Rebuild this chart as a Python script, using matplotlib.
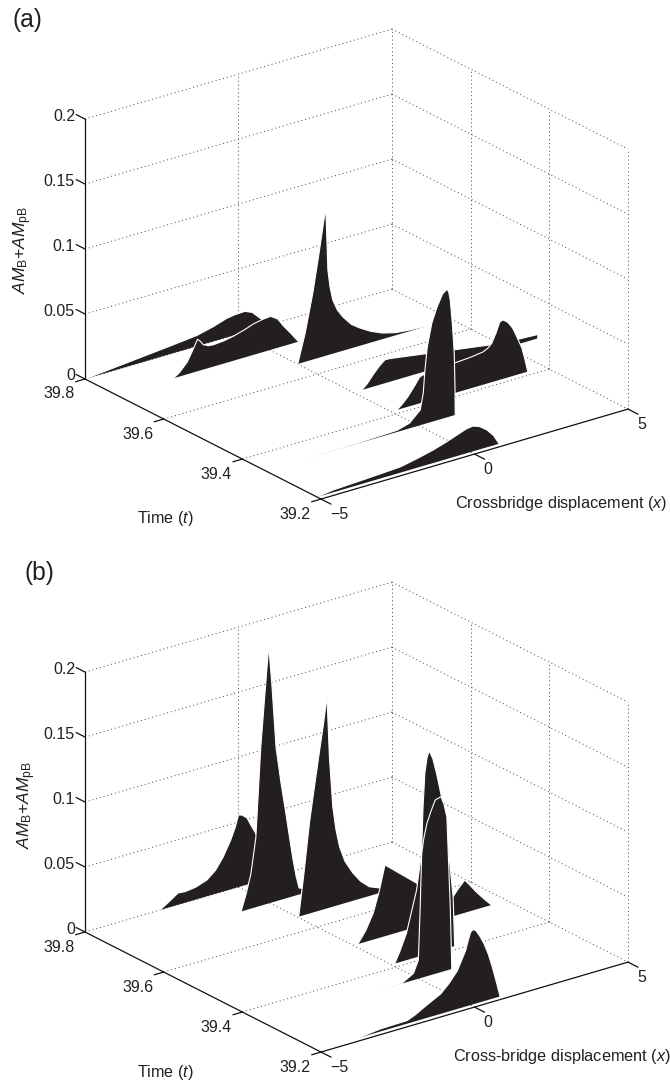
import matplotlib
matplotlib.use('Agg')
import numpy as np
import matplotlib.pyplot as plt
from mpl_toolkits.mplot3d import proj3d
from mpl_toolkits.mplot3d.art3d import Poly3DCollection

plt.rcParams['font.family'] = 'Liberation Sans'
plt.rcParams['mathtext.fontset'] = 'custom'
plt.rcParams['mathtext.rm'] = 'Liberation Sans'
plt.rcParams['mathtext.it'] = 'Liberation Sans:italic'

INK = '#231f20'
W, H = 670, 1081

x_ticks = [-5, 0, 5]
x_tick_labels = ['\u22125', '0', '5']
t_ticks = [39.8, 39.6, 39.4, 39.2]
t_tick_labels = ['39.8', '39.6', '39.4', '39.2']
z_ticks = [0, 0.05, 0.1, 0.15, 0.2]
z_tick_labels = ['0', '0.05', '0.1', '0.15', '0.2']

# panel (a), one time slice per list
a1_t = 39.8
a1_x = [-5, -3.21, -2.3, -1.35, -0.8, -0.37, -0.1, 0.21, 0.45, 0.7, 1.06]
a1_z = [0, 0.004, 0.006, 0.0083, 0.0115, 0.0148, 0.0157, 0.016, 0.0135, 0.0074, 0]
a2_t = 39.72
a2_x = [-3.14, -2.95, -2.69, -2.5, -2.36, -2.27, -2.17, -2.0, -1.84, -1.5, -1.19, -0.85, -0.54, -0.25, 0.02, 0.25, 0.44, 0.7, 0.93]
a2_z = [0, 0.003, 0.0095, 0.018, 0.0246, 0.0225, 0.0191, 0.0172, 0.0168, 0.0175, 0.0189, 0.0212, 0.0238, 0.0252, 0.0258, 0.0222, 0.0155, 0.0075, 0]
a3_t = 39.65
a3_x = [0.01, 0.25, 0.5, 0.7, 0.92, 0.95, 0.99, 1.06, 1.15, 1.3, 1.48, 1.75, 2.03, 2.4, 2.78, 3.2, 3.66, 4.31]
a3_z = [0, 0.022, 0.0512, 0.08, 0.114, 0.095, 0.0656, 0.052, 0.0413, 0.0325, 0.026, 0.0185, 0.0137, 0.0085, 0.0046, 0.002, 0.0009, 0]
a4_t = 39.508
a4_x = [0.28, 0.45, 0.64, 0.85, 1.03, 1.2, 2.49, 4.45, 5.2, 6.01, 6.01]
a4_z = [0, 0.0035, 0.0091, 0.0145, 0.018, 0.0178, 0.013, 0.0058, 0.004, 0.003, 0]
a5_t = 39.412
a5_x = [0.19, 0.35, 0.54, 0.75, 0.93, 1.1, 2.07, 2.6, 2.99, 3.15, 3.28, 3.42, 3.54, 3.64, 3.8, 3.96, 4.1, 4.26, 4.36, 4.45]
a5_z = [0, 0.003, 0.0075, 0.014, 0.0202, 0.0215, 0.0231, 0.024, 0.0252, 0.027, 0.03, 0.037, 0.0445, 0.0454, 0.0425, 0.0369, 0.029, 0.0195, 0.01, 0]
a6_t = 39.342
a6_x = [-3.86, -2, -0.7, -0.3, 0.05, 0.15, 0.2, 0.28, 0.43, 0.6, 0.78, 0.93, 0.98, 1.03, 1.1, 1.16, 1.185, 1.19]
a6_z = [0, 0.0004, 0.0013, 0.004, 0.0117, 0.0241, 0.04, 0.0585, 0.076, 0.0871, 0.096, 0.0986, 0.096, 0.0895, 0.07, 0.0478, 0.02, 0]
a7_t = 39.21
a7_x = [-5, -4.48, -3.4, -2.3, -1.75, -1.22, -0.8, -0.44, -0.15, 0.08, 0.3, 0.54, 0.75, 0.93]
a7_z = [0, 0.0018, 0.003, 0.0044, 0.007, 0.01, 0.0131, 0.0162, 0.0187, 0.0195, 0.0175, 0.0132, 0.0075, 0]

# panel (b)
b1_t = 39.8
b1_x = [-2.56, -2.25, -1.97, -1.74, -1.4, -1.03, -0.75, -0.5, -0.25, -0.1, 0, 0.12, 0.28, 0.4, 0.54, 1.0, 1.55]
b1_z = [0, 0.0045, 0.009, 0.0085, 0.0095, 0.0125, 0.018, 0.0265, 0.038, 0.047, 0.0555, 0.0545, 0.0512, 0.045, 0.0385, 0.012, 0]
b2_t = 39.72
b2_x = [-0.94, -0.78, -0.62, -0.46, -0.3, -0.13, -0.04, 0.06, 0.2, 0.36, 0.52, 0.62, 0.74, 0.85, 0.95, 1.11, 1.2]
b2_z = [0, 0.012, 0.0269, 0.0535, 0.1217, 0.172, 0.198, 0.1685, 0.118, 0.09, 0.0652, 0.049, 0.03, 0.015, 0.005, 0.0035, 0]
b3_t = 39.65
b3_x = [0.04, 0.2, 0.39, 0.55, 0.71, 0.85, 0.96, 1.0, 1.04, 1.15, 1.25, 1.37, 1.55, 1.8, 2.05, 2.34, 2.61, 3.2]
b3_z = [0, 0.03, 0.0698, 0.096, 0.1215, 0.143, 0.163, 0.14, 0.116, 0.0768, 0.059, 0.0446, 0.032, 0.0216, 0.0135, 0.0071, 0.0045, 0]
b4_t = 39.508
b4_x = [0.15, 0.4, 0.65, 0.85, 1.03, 2.06, 2.7, 3.25, 3.4, 3.63, 3.8, 4.0, 4.25, 4.5]
b4_z = [0, 0.0085, 0.0205, 0.0365, 0.0548, 0.0337, 0.02, 0.015, 0.0195, 0.0252, 0.02, 0.0136, 0.0065, 0]
b5_t = 39.412
b5_x = [0.12, 0.3, 0.5, 0.83, 0.99, 1.04, 1.1, 1.17, 1.24, 1.36, 1.48, 1.64, 1.85, 2.02, 2.07]
b5_z = [0, 0.009, 0.0207, 0.0517, 0.079, 0.114, 0.14, 0.151, 0.156, 0.149, 0.137, 0.118, 0.08, 0.038, 0]
b6_t = 39.342
b6_x = [-1.69, -0.55, -0.17, -0.01, 0.05, 0.1, 0.17, 0.27, 0.4, 0.54, 0.73, 0.83, 0.92, 1.03, 1.08]
b6_z = [0, 0.0002, 0.0052, 0.0143, 0.0549, 0.0956, 0.107, 0.1176, 0.126, 0.1337, 0.135, 0.128, 0.118, 0.048, 0]
b7_t = 39.21
b7_x = [-3.68, -2.93, -2.5, -2.06, -1.8, -1.51, -1.25, -0.97, -0.7, -0.43, -0.3, -0.16, -0.08, 0, 0.08, 0.17, 0.3, 0.44, 0.58, 0.71, 0.85, 0.96]
b7_z = [0, 0.002, 0.0022, 0.0024, 0.005, 0.0088, 0.012, 0.0154, 0.0215, 0.0295, 0.036, 0.0431, 0.05, 0.056, 0.0575, 0.0562, 0.051, 0.0441, 0.035, 0.0242, 0.011, 0]

slices_a = [(a1_t, a1_x, a1_z), (a2_t, a2_x, a2_z), (a3_t, a3_x, a3_z), (a4_t, a4_x, a4_z),
            (a5_t, a5_x, a5_z), (a6_t, a6_x, a6_z), (a7_t, a7_x, a7_z)]
slices_b = [(b1_t, b1_x, b1_z), (b2_t, b2_x, b2_z), (b3_t, b3_x, b3_z), (b4_t, b4_x, b4_z),
            (b5_t, b5_x, b5_z), (b6_t, b6_x, b6_z), (b7_t, b7_x, b7_z)]


def to_px(ax, x, t, z):
    X, Y, _ = proj3d.proj_transform(x, t, z, ax.get_proj())
    return ax.transData.transform((X, Y))


def make_axes(fig, origin_px, right_px):
    # square axes, then scale and shift until the box corners land on the wanted pixels
    ax = fig.add_axes([0.1, 0.1, 600 / W, 600 / H], projection='3d', proj_type='ortho',
                      computed_zorder=False)
    ax.view_init(elev=22.71, azim=-127.2)
    ax.set_xlim(-5, 5, view_margin=0)
    ax.set_ylim(39.2, 39.8, view_margin=0)
    ax.set_zlim(0, 0.2, view_margin=0)
    ax.set_box_aspect((385.4, 390.4, 281.8))
    ax.set_axis_off()
    ax.patch.set_visible(False)

    p0 = to_px(ax, -5, 39.8, 0)
    p1 = to_px(ax, 5, 39.2, 0)
    want = np.hypot(right_px[0] - origin_px[0], right_px[1] - origin_px[1])
    side = 600 * want / np.hypot(*(p1 - p0))
    ax.set_position([0.1, 0.1, side / W, side / H])
    p0 = to_px(ax, -5, 39.8, 0)
    left = 0.1 * W + origin_px[0] - p0[0]
    bottom = 0.1 * H + (H - origin_px[1]) - p0[1]
    ax.set_position([left / W, bottom / H, side / W, side / H])
    return ax


def tick_text(fig, ax, x, t, z, dx, dy, s, ha):
    # dx, dy are a pixel offset from the tick's place on the axis, dy upwards
    p = to_px(ax, x, t, z)
    fig.text((p[0] + dx) / W, (p[1] + dy) / H, s, ha=ha, va='center', fontsize=11.5, color=INK)


def draw_panel(fig, ax, slices):
    grid = dict(color='#444444', ls=(0, (1, 3)), lw=0.7, zorder=1)
    solid = dict(color='#111111', lw=0.9, zorder=30)

    # dotted walls and floor
    for z in z_ticks:
        ax.plot([-5, 5], [39.8, 39.8], [z, z], **grid)
        ax.plot([5, 5], [39.8, 39.2], [z, z], **grid)
    for x in x_ticks[1:]:
        ax.plot([x, x], [39.8, 39.8], [0, 0.2], **grid)
    for t in t_ticks[1:]:
        ax.plot([5, 5], [t, t], [0, 0.2], **grid)
    for t in t_ticks[1:-1]:
        ax.plot([-5, 5], [t, t], [0, 0], **grid)
    ax.plot([0, 0], [39.8, 39.2], [0, 0], **grid)

    # slices, back to front
    for i, (t, xs, zs) in enumerate(slices):
        verts = [(x, t, z) for x, z in zip(xs, zs)]
        poly = Poly3DCollection([verts], facecolor=INK, edgecolor='none', zorder=5 + 2 * i)
        ax.add_collection3d(poly)
        ax.plot(xs, [t] * len(xs), zs, color='white', lw=0.8, zorder=6 + 2 * i)

    # solid axes with ticks
    ax.plot([-5, -5], [39.8, 39.8], [0, 0.2], **solid)
    ax.plot([-5, -5], [39.8, 39.2], [0, 0], **solid)
    ax.plot([-5, 5], [39.2, 39.2], [0, 0], **solid)
    for z, lab in zip(z_ticks, z_tick_labels):
        ax.plot([-5, -5], [39.8, 39.822], [z, z], **solid)
        tick_text(fig, ax, -5, 39.8, z, -10, 3, lab, 'right')
    for t, lab in zip(t_ticks, t_tick_labels):
        ax.plot([-5, -5.3], [t, t], [0, 0], **solid)
        tick_text(fig, ax, -5, t, 0, -26, -15, lab, 'center')
    for x, lab in zip(x_ticks, x_tick_labels):
        ax.plot([x, x], [39.2, 39.175], [0, 0], **solid)
        tick_text(fig, ax, x, 39.2, 0, 9, -15, lab, 'left')


def label_px(fig, px, py, s, **kw):
    fig.text(px / W, 1 - py / H, s, color=INK, **kw)


fig = plt.figure(figsize=(W / 100, H / 100), dpi=100)

ax_a = make_axes(fig, (85, 379), (628, 409))
draw_panel(fig, ax_a, slices_a)
ax_b = make_axes(fig, (85, 932), (628, 962))
draw_panel(fig, ax_b, slices_b)

z_label = r'$\mathit{AM}_{\mathrm{B}}$+$\mathit{AM}_{\mathrm{pB}}$'
label_px(fig, 13, 20, '(a)', fontsize=17.7, ha='left', va='center')
label_px(fig, 23, 250, z_label, fontsize=12.5, rotation=90, ha='center', va='center')
label_px(fig, 165, 518, r'Time ($\mathit{t}$)', fontsize=11.6, ha='center', va='center')
label_px(fig, 561, 503, r'Crossbridge displacement ($\mathit{x}$)', fontsize=11.7, ha='center', va='center')

label_px(fig, 25, 573, '(b)', fontsize=17.7, ha='left', va='center')
label_px(fig, 27, 805, z_label, fontsize=12.5, rotation=90, ha='center', va='center')
label_px(fig, 165, 1072, r'Time ($\mathit{t}$)', fontsize=11.6, ha='center', va='center')
label_px(fig, 562, 1056, r'Cross-bridge displacement ($\mathit{x}$)', fontsize=11.7, ha='center', va='center')

fig.savefig('out.png', dpi=100)
